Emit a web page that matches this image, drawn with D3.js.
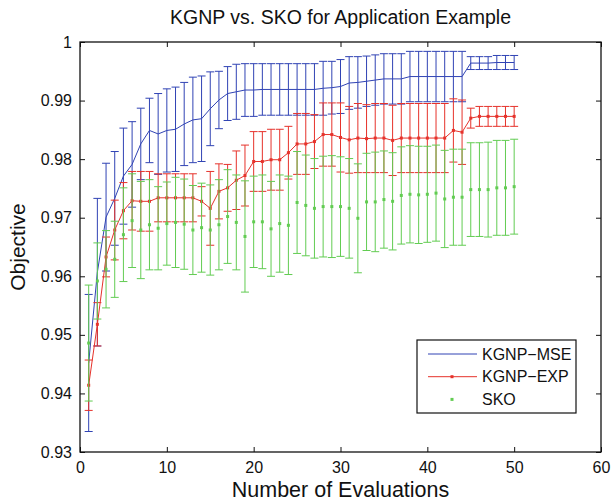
<!DOCTYPE html>
<html>
<head>
<meta charset="utf-8">
<script src="https://cdn.jsdelivr.net/npm/d3@7"></script>
<style>
  body { margin: 0; background: white; }
  svg text { font-family: "Liberation Sans", Arial, Helvetica, sans-serif; fill: #111; }
</style>
</head>
<body>
<div id="chartContainer"></div>
<script>

// number of evaluations 1..50
const evaluations = d3.range( 1, 51 );

const xTicks = [ 0, 10, 20, 30, 40, 50, 60 ];
const yTicks = [ 0.93, 0.94, 0.95, 0.96, 0.97, 0.98, 0.99, 1 ];

const seriesNames = [ 'KGNP\u2212MSE', 'KGNP\u2212EXP', 'SKO' ];

// KGNP-MSE mean and error half width
const mseMean = [
  0.9452, 0.9607, 0.9701, 0.9733, 0.9771, 0.9791, 0.9826, 0.9849, 0.9843, 0.9849,
  0.9851, 0.9860, 0.9867, 0.9869, 0.9886, 0.9901, 0.9912, 0.9915, 0.9918, 0.9918,
  0.9919, 0.9919, 0.9919, 0.9919, 0.9919, 0.9919, 0.9919, 0.9921, 0.9922, 0.9924,
  0.9930, 0.9931, 0.9933, 0.9935, 0.9937, 0.9937, 0.9937, 0.9941, 0.9941, 0.9941,
  0.9941, 0.9941, 0.9941, 0.9941, 0.9964, 0.9964, 0.9964, 0.9965, 0.9965, 0.9965
];
const mseErr = [
  0.0117, 0.0126, 0.0092, 0.0080, 0.0082, 0.0073, 0.0061, 0.0055, 0.0069, 0.0071,
  0.0072, 0.0071, 0.0073, 0.0073, 0.0063, 0.0049, 0.0046, 0.0047, 0.0045, 0.0045,
  0.0044, 0.0044, 0.0044, 0.0044, 0.0044, 0.0044, 0.0044, 0.0046, 0.0045, 0.0046,
  0.0045, 0.0044, 0.0043, 0.0043, 0.0043, 0.0043, 0.0043, 0.0043, 0.0043, 0.0043,
  0.0043, 0.0043, 0.0043, 0.0043, 0.0011, 0.0011, 0.0011, 0.0012, 0.0012, 0.0012
];

// KGNP-EXP mean and error half width
const expMean = [
  0.9414, 0.9518, 0.9633, 0.9679, 0.9712, 0.9729, 0.9728, 0.9728, 0.9734, 0.9734,
  0.9734, 0.9734, 0.9734, 0.9728, 0.9716, 0.9745, 0.9751, 0.9764, 0.9772, 0.9796,
  0.9796, 0.9799, 0.9799, 0.9811, 0.9826, 0.9826, 0.9830, 0.9842, 0.9842, 0.9837,
  0.9833, 0.9836, 0.9835, 0.9836, 0.9836, 0.9832, 0.9836, 0.9836, 0.9836, 0.9836,
  0.9836, 0.9836, 0.9849, 0.9846, 0.9870, 0.9873, 0.9873, 0.9873, 0.9873, 0.9873
];
const expErr = [
  0.0043, 0.0037, 0.0034, 0.0051, 0.0048, 0.0050, 0.0051, 0.0051, 0.0041, 0.0041,
  0.0041, 0.0041, 0.0041, 0.0025, 0.0063, 0.0047, 0.0040, 0.0050, 0.0052, 0.0051,
  0.0051, 0.0052, 0.0052, 0.0045, 0.0052, 0.0052, 0.0046, 0.0054, 0.0054, 0.0059,
  0.0057, 0.0059, 0.0058, 0.0059, 0.0059, 0.0060, 0.0059, 0.0059, 0.0059, 0.0059,
  0.0059, 0.0059, 0.0054, 0.0055, 0.0017, 0.0017, 0.0017, 0.0017, 0.0017, 0.0017
];

// SKO mean and error half width
const skoMean = [
  0.9486, 0.9592, 0.9612, 0.9629, 0.9671, 0.9695, 0.9679, 0.9688, 0.9682, 0.9690,
  0.9692, 0.9689, 0.9679, 0.9683, 0.9679, 0.9688, 0.9702, 0.9692, 0.9668, 0.9693,
  0.9693, 0.9681, 0.9690, 0.9687, 0.9726, 0.9721, 0.9716, 0.9719, 0.9719, 0.9719,
  0.9716, 0.9699, 0.9727, 0.9727, 0.9731, 0.9728, 0.9738, 0.9740, 0.9739, 0.9740,
  0.9742, 0.9732, 0.9735, 0.9735, 0.9748, 0.9748, 0.9748, 0.9751, 0.9751, 0.9753
];
const skoErr = [
  0.0099, 0.0065, 0.0066, 0.0065, 0.0080, 0.0080, 0.0083, 0.0077, 0.0071, 0.0071,
  0.0077, 0.0077, 0.0076, 0.0076, 0.0077, 0.0077, 0.0080, 0.0081, 0.0095, 0.0078,
  0.0080, 0.0081, 0.0083, 0.0084, 0.0087, 0.0086, 0.0085, 0.0086, 0.0087, 0.0085,
  0.0085, 0.0093, 0.0083, 0.0085, 0.0083, 0.0083, 0.0083, 0.0083, 0.0083, 0.0082,
  0.0082, 0.0083, 0.0082, 0.0082, 0.0080, 0.0080, 0.0081, 0.0081, 0.0081, 0.0081
];

const margin = { top: 42, right: 10, bottom: 50, left: 80 };
const width = 521;
const height = 410;

const colors = { mse: '#3043b4', exp: '#e6322b', sko: '#62cc52' };

const svg = d3.select( '#chartContainer' )
  .append( 'svg' )
  .attr( 'width', width + margin.left + margin.right )
  .attr( 'height', height + margin.top + margin.bottom )
  .append( 'g' )
  .attr( 'transform', `translate(${margin.left},${margin.top})` );

const xScale = d3.scaleLinear().domain( [ 0, 60 ] ).range( [ 0, width ] );
const yScale = d3.scaleLinear().domain( [ 0.93, 1 ] ).range( [ height, 0 ] );

/**
 * Draws error bars with caps for one series
 */
function drawErrorBars( means, errs, color ) {
  const g = svg.append( 'g' ).attr( 'stroke', color ).attr( 'stroke-width', 1 ).attr( 'fill', 'none' );
  const cap = 4;
  evaluations.forEach( ( x, i ) => {
    const px = xScale( x );
    const top = yScale( means[ i ] + errs[ i ] );
    const bottom = yScale( means[ i ] - errs[ i ] );
    g.append( 'line' ).attr( 'x1', px ).attr( 'x2', px ).attr( 'y1', top ).attr( 'y2', bottom );
    g.append( 'line' ).attr( 'x1', px - cap ).attr( 'x2', px + cap ).attr( 'y1', top ).attr( 'y2', top );
    g.append( 'line' ).attr( 'x1', px - cap ).attr( 'x2', px + cap ).attr( 'y1', bottom ).attr( 'y2', bottom );
  } );
}

function drawLine( means, color ) {
  const line = d3.line().x( ( d, i ) => xScale( evaluations[ i ] ) ).y( d => yScale( d ) );
  svg.append( 'path' )
    .datum( means )
    .attr( 'fill', 'none' )
    .attr( 'stroke', color )
    .attr( 'stroke-width', 1 )
    .attr( 'd', line );
}

function drawMarkers( means, color ) {
  svg.append( 'g' ).selectAll( 'rect' )
    .data( means )
    .join( 'rect' )
    .attr( 'x', ( d, i ) => xScale( evaluations[ i ] ) - 1.5 )
    .attr( 'y', d => yScale( d ) - 1.5 )
    .attr( 'width', 3 )
    .attr( 'height', 3 )
    .attr( 'fill', color );
}

// KGNP-MSE
drawErrorBars( mseMean, mseErr, colors.mse );
drawLine( mseMean, colors.mse );

// KGNP-EXP
drawErrorBars( expMean, expErr, colors.exp );
drawLine( expMean, colors.exp );
drawMarkers( expMean, colors.exp );

// SKO, points only
drawErrorBars( skoMean, skoErr, colors.sko );
drawMarkers( skoMean, colors.sko );

// axes, ticks pointing inward like matlab
const xAxis = svg.append( 'g' )
  .attr( 'transform', `translate(0, ${height})` )
  .call( d3.axisBottom( xScale ).tickValues( xTicks ).tickSize( -5 ).tickPadding( 10 ) );
const yAxis = svg.append( 'g' )
  .call( d3.axisLeft( yScale ).tickValues( yTicks ).tickSize( -5 ).tickPadding( 8 ).tickFormat( d3.format( '' ) ) );
const xAxisTop = svg.append( 'g' )
  .call( d3.axisTop( xScale ).tickValues( xTicks ).tickSize( -5 ).tickFormat( '' ) );
const yAxisRight = svg.append( 'g' )
  .attr( 'transform', `translate(${width}, 0)` )
  .call( d3.axisRight( yScale ).tickValues( yTicks ).tickSize( -5 ).tickFormat( '' ) );

[ xAxis, yAxis, xAxisTop, yAxisRight ].forEach( a => {
  a.select( '.domain' ).remove();
  a.selectAll( 'line' ).attr( 'stroke', '#111' );
  a.selectAll( 'text' ).style( 'font-size', '16px' ).attr( 'fill', '#111' );
} );

svg.append( 'rect' )
  .attr( 'width', width )
  .attr( 'height', height )
  .attr( 'fill', 'none' )
  .attr( 'stroke', '#111' )
  .attr( 'stroke-width', 1.3 );

// titles
svg.append( 'text' )
  .attr( 'x', width / 2 )
  .attr( 'y', -18 )
  .attr( 'text-anchor', 'middle' )
  .style( 'font-size', '19.5px' )
  .text( 'KGNP vs. SKO for Application Example' );

svg.append( 'text' )
  .attr( 'x', width / 2 )
  .attr( 'y', height + 45 )
  .attr( 'text-anchor', 'middle' )
  .style( 'font-size', '21.5px' )
  .text( 'Number of Evaluations' );

svg.append( 'text' )
  .attr( 'transform', `translate(${25 - margin.left}, ${height / 2}) rotate(-90)` )
  .attr( 'text-anchor', 'middle' )
  .style( 'font-size', '21px' )
  .text( 'Objective' );

// legend
const legend = svg.append( 'g' ).attr( 'transform', `translate(${337}, ${298})` );
legend.append( 'rect' )
  .attr( 'width', 159 )
  .attr( 'height', 73 )
  .attr( 'fill', 'white' )
  .attr( 'stroke', '#111' )
  .attr( 'stroke-width', 1.2 );

const legendColors = [ colors.mse, colors.exp, colors.sko ];
seriesNames.forEach( ( name, i ) => {
  const y = 14 + i * 22.7;
  if ( i < 2 ) {
    legend.append( 'line' )
      .attr( 'x1', 11 ).attr( 'x2', 60 ).attr( 'y1', y ).attr( 'y2', y )
      .attr( 'stroke', legendColors[ i ] ).attr( 'stroke-width', 1 );
  }
  if ( i > 0 ) {
    legend.append( 'rect' )
      .attr( 'x', 35 - 1.5 ).attr( 'y', y - 1.5 ).attr( 'width', 3 ).attr( 'height', 3 )
      .attr( 'fill', legendColors[ i ] );
  }
  legend.append( 'text' )
    .attr( 'x', 65 )
    .attr( 'y', y )
    .attr( 'dy', '0.36em' )
    .style( 'font-size', '16px' )
    .text( name );
} );

</script>
</body>
</html>
